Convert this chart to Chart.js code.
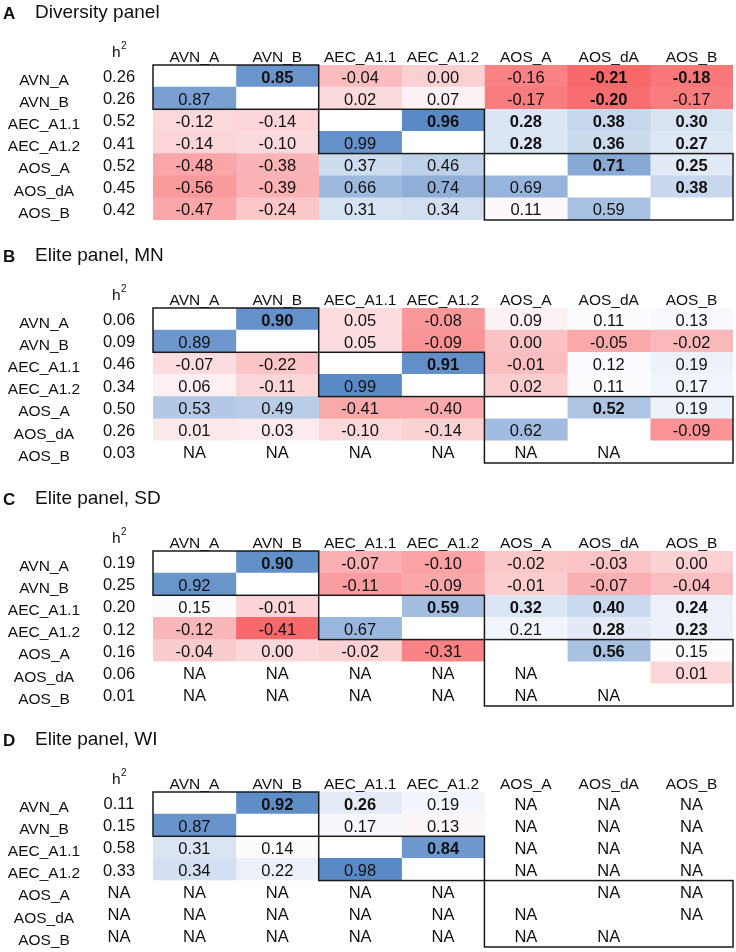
<!DOCTYPE html>
<html><head><meta charset="utf-8">
<script src="https://cdn.jsdelivr.net/npm/chart.js@4/dist/chart.umd.min.js"></script>
<style>
html,body{margin:0;padding:0;background:#fff;}
#wrap{position:relative;width:736px;height:952px;overflow:hidden;}
.panel{position:absolute;left:0;width:736px;height:243px;}
canvas{display:block;}
</style></head><body>
<div id="wrap">
<div class="panel" style="top:0px"><canvas id="c0" width="736" height="243"></canvas></div>
<div class="panel" style="top:243px"><canvas id="c1" width="736" height="243"></canvas></div>
<div class="panel" style="top:486px"><canvas id="c2" width="736" height="243"></canvas></div>
<div class="panel" style="top:727px"><canvas id="c3" width="736" height="243"></canvas></div>
</div>
<script>
// ---------- DATA ----------
const traits = ['AVN_A','AVN_B','AEC_A1.1','AEC_A1.2','AOS_A','AOS_dA','AOS_B'];
const panelLetters = ['A','B','C','D'];
const panelTitles = ['Diversity panel','Elite panel, MN','Elite panel, SD','Elite panel, WI'];

const diversityH2 = ['0.26','0.26','0.52','0.41','0.52','0.45','0.42'];
const diversityCorr = [
  [null, 0.85, -0.04, 0.00, -0.16, -0.21, -0.18],
  [0.87, null, 0.02, 0.07, -0.17, -0.20, -0.17],
  [-0.12, -0.14, null, 0.96, 0.28, 0.38, 0.30],
  [-0.14, -0.10, 0.99, null, 0.28, 0.36, 0.27],
  [-0.48, -0.38, 0.37, 0.46, null, 0.71, 0.25],
  [-0.56, -0.39, 0.66, 0.74, 0.69, null, 0.38],
  [-0.47, -0.24, 0.31, 0.34, 0.11, 0.59, null]
];
const diversityBold = [[0,1],[0,5],[0,6],[1,5],[2,3],[2,4],[2,5],[2,6],[3,4],[3,5],[3,6],[4,5],[4,6],[5,6]];

const mnH2 = ['0.06','0.09','0.46','0.34','0.50','0.26','0.03'];
const mnCorr = [
  [null, 0.90, 0.05, -0.08, 0.09, 0.11, 0.13],
  [0.89, null, 0.05, -0.09, 0.00, -0.05, -0.02],
  [-0.07, -0.22, null, 0.91, -0.01, 0.12, 0.19],
  [0.06, -0.11, 0.99, null, 0.02, 0.11, 0.17],
  [0.53, 0.49, -0.41, -0.40, null, 0.52, 0.19],
  [0.01, 0.03, -0.10, -0.14, 0.62, null, -0.09],
  ['NA','NA','NA','NA','NA','NA', null]
];
const mnBold = [[0,1],[2,3],[4,5]];

const sdH2 = ['0.19','0.25','0.20','0.12','0.16','0.06','0.01'];
const sdCorr = [
  [null, 0.90, -0.07, -0.10, -0.02, -0.03, 0.00],
  [0.92, null, -0.11, -0.09, -0.01, -0.07, -0.04],
  [0.15, -0.01, null, 0.59, 0.32, 0.40, 0.24],
  [-0.12, -0.41, 0.67, null, 0.21, 0.28, 0.23],
  [-0.04, 0.00, -0.02, -0.31, null, 0.56, 0.15],
  ['NA','NA','NA','NA','NA', null, 0.01],
  ['NA','NA','NA','NA','NA','NA', null]
];
const sdBold = [[0,1],[2,3],[2,4],[2,5],[2,6],[3,5],[3,6],[4,5]];

const wiH2 = ['0.11','0.15','0.58','0.33','NA','NA','NA'];
const wiCorr = [
  [null, 0.92, 0.26, 0.19, 'NA','NA','NA'],
  [0.87, null, 0.17, 0.13, 'NA','NA','NA'],
  [0.31, 0.14, null, 0.84, 'NA','NA','NA'],
  [0.34, 0.22, 0.98, null, 'NA','NA','NA'],
  ['NA','NA','NA','NA', null, 'NA','NA'],
  ['NA','NA','NA','NA','NA', null, 'NA'],
  ['NA','NA','NA','NA','NA','NA', null]
];
const wiBold = [[0,1],[0,2],[2,3]];

// trait groups boxed on the diagonal (first, last index)
const traitGroups = [[0,1],[2,3],[4,6]];

// ---------- STYLE ----------
const RED = [248,105,107], MID = [252,252,255], BLUE = [90,138,198];
// per panel colour-scale anchors (upper / lower triangle)
const colourScales = [
  {upper:{lo:-0.21,redZero:0.09,blueZero:0.12,hi:0.93}, lower:{lo:-0.91,redZero:0.14,blueZero:0.10,hi:1.05}},
  {upper:{lo:-0.17,redZero:0.11,blueZero:0.11,hi:0.95}, lower:{lo:-0.83,redZero:0.14,blueZero:0.14,hi:0.99}},
  {upper:{lo:-0.22,redZero:0.09,blueZero:0.16,hi:0.94}, lower:{lo:-0.41,redZero:0.14,blueZero:0.15,hi:1.00}},
  {upper:{lo:-0.10,redZero:0.14,blueZero:0.14,hi:0.94}, lower:{lo:-0.50,redZero:0.14,blueZero:0.14,hi:0.94}}
];
const FONT = '"Liberation Sans", Arial, Helvetica, sans-serif';
const INK = '#111111';

function mix(a,b,t){return 'rgb('+a.map((x,i)=>Math.round(x+(b[i]-x)*t)).join(',')+')';}
function cellColour(v, s){
  if (typeof v !== 'number') return '#ffffff';
  if (v <= s.redZero) return mix(MID, RED, Math.min(1,(s.redZero - v)/(s.redZero - s.lo)));
  if (v >= s.blueZero) return mix(MID, BLUE, Math.min(1,(v - s.blueZero)/(s.hi - s.blueZero)));
  return mix(MID, MID, 0);
}

const panels = [
  {h2: diversityH2, corr: diversityCorr, bold: diversityBold},
  {h2: mnH2, corr: mnCorr, bold: mnBold},
  {h2: sdH2, corr: sdCorr, bold: sdBold},
  {h2: wiH2, corr: wiCorr, bold: wiBold}
];

function makeTextPlugin(pi){
  const P = panels[pi];
  return {
    id: 'tableText' + pi,
    afterDatasetsDraw(chart){
      const ctx = chart.ctx, xs = chart.scales.x, ys = chart.scales.y;
      const top = chart.chartArea.top, rowH = (chart.chartArea.bottom - chart.chartArea.top) / traits.length;
      ctx.save();
      ctx.fillStyle = INK;
      // panel letter + title
      ctx.textBaseline = 'alphabetic';
      ctx.textAlign = 'left';
      ctx.font = 'bold 17px ' + FONT;
      ctx.fillText(panelLetters[pi], 3, top - 46);
      ctx.font = '19px ' + FONT;
      ctx.fillText(panelTitles[pi], 35, top - 47);
      // h^2 header
      ctx.font = '15.5px ' + FONT;
      ctx.fillText('h', 112, top - 8);
      ctx.font = '10px ' + FONT;
      ctx.fillText('2', 121, top - 16);
      // column headers
      ctx.textAlign = 'center';
      ctx.font = '15.5px ' + FONT;
      traits.forEach((t, c) => ctx.fillText(t, xs.getPixelForValue(c + 0.5), top - 3));
      // rows
      ctx.textBaseline = 'middle';
      traits.forEach((t, r) => {
        const yc = ys.getPixelForValue(r);
        ctx.font = '15.5px ' + FONT;
        ctx.fillText(t, 44, yc + 4.5);
        ctx.font = '16.5px ' + FONT;
        ctx.fillText(P.h2[r], 119, yc + 1.5);
        P.corr[r].forEach((v, c) => {
          if (v === null) return;
          const isBold = P.bold.some(b => b[0] === r && b[1] === c);
          ctx.font = (isBold ? 'bold ' : '') + '16.5px ' + FONT;
          const txt = typeof v === 'number' ? v.toFixed(2) : v;
          ctx.fillText(txt, xs.getPixelForValue(c + 0.5), yc + 2);
        });
      });
      // group boxes
      ctx.strokeStyle = '#1a1a1a';
      ctx.lineWidth = 1.5;
      traitGroups.forEach(g => {
        const x0 = xs.getPixelForValue(g[0]), x1 = xs.getPixelForValue(g[1] + 1);
        const y0 = ys.getPixelForValue(g[0]) - rowH / 2, y1 = ys.getPixelForValue(g[1]) + rowH / 2;
        ctx.strokeRect(x0, y0, x1 - x0, y1 - y0);
      });
      ctx.restore();
    }
  };
}

panels.forEach((P, pi) => {
  const sc = colourScales[pi];
  const datasets = traits.map((t, c) => ({
    label: t,
    data: traits.map(() => 1),
    backgroundColor: traits.map((rt, r) => cellColour(P.corr[r][c], c > r ? sc.upper : sc.lower)),
    borderWidth: 0,
    barPercentage: 1,
    categoryPercentage: 1,
    stack: 'row'
  }));
  new Chart(document.getElementById('c' + pi), {
    type: 'bar',
    data: { labels: traits, datasets },
    options: {
      responsive: false,
      animation: false,
      devicePixelRatio: 1,
      indexAxis: 'y',
      layout: { padding: { left: 153, right: 3, top: 65, bottom: 23 } },
      plugins: { legend: { display: false }, tooltip: { enabled: false }, title: { display: false } },
      scales: {
        x: { type: 'linear', stacked: true, min: 0, max: 7, display: false },
        y: { type: 'category', stacked: true, display: false }
      }
    },
    plugins: [makeTextPlugin(pi)]
  });
});
</script>
</body></html>
